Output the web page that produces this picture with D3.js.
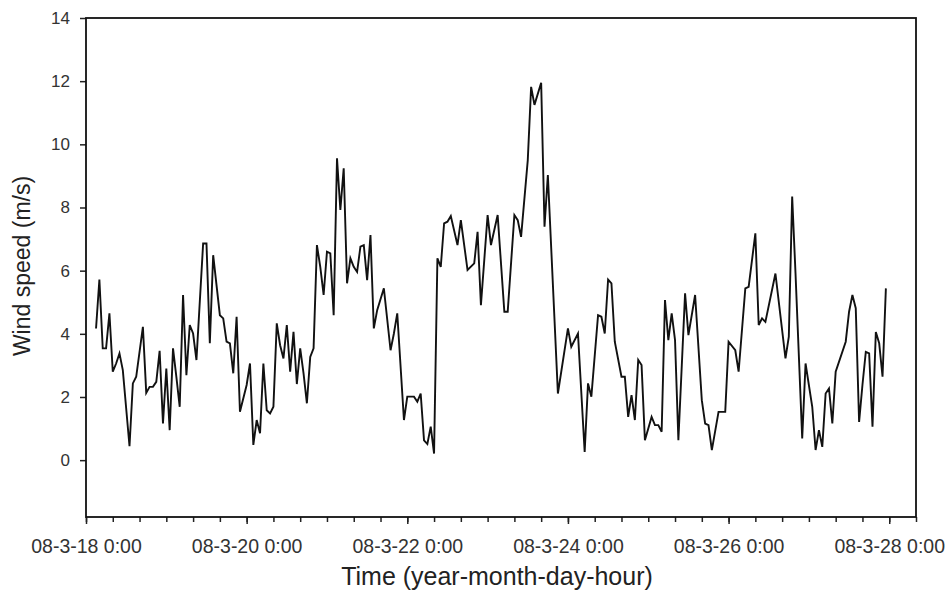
<!DOCTYPE html>
<html>
<head>
<meta charset="utf-8">
<script src="https://cdn.jsdelivr.net/npm/d3@7"></script>
<style>
  body { margin: 0; padding: 0; background: #fff; }
  svg { display: block; font-family: "Liberation Sans", Arial, sans-serif; }
</style>
</head>
<body>
<div id="chart"></div>
<script>
const width = 948;
const height = 592;

// hours after 2008-03-18 0:00
const hours = [
  3, 4, 5, 6, 7, 8, 9, 10, 11, 13, 14, 15, 17, 18, 19, 20, 21, 22, 23, 24,
  25, 26, 27, 28, 29, 30, 31, 32, 33, 35, 36, 37, 38, 40, 41, 42, 43, 44, 45, 46,
  48, 49, 50, 51, 52, 53, 54, 55, 56, 57, 58, 59, 60, 61, 62, 63, 64, 65, 66, 67,
  68, 69, 70, 71, 72, 73, 74, 75, 76, 77, 78, 79, 80, 81, 82, 83, 84, 85, 86, 87,
  89, 91, 92, 93, 95, 96, 98, 99, 100, 101, 102, 103, 104, 105, 106, 107, 108, 109, 111, 112,
  114, 116, 117, 118, 120, 121, 123, 125, 126, 128, 129, 130, 132, 133, 134, 136, 137, 138, 141, 144,
  145, 147, 149, 150, 151, 153, 154, 155, 156, 157, 158, 160, 161, 162, 163, 164, 165, 166, 167, 169,
  170, 171, 172, 173, 174, 175, 176, 177, 179, 180, 182, 184, 185, 186, 187, 189, 191, 192, 194, 195,
  197, 198, 200, 201, 202, 203, 206, 209, 210, 211, 212, 214, 215, 217, 218, 219, 220, 221, 222, 223,
  224, 227, 228, 229, 230, 231, 232, 233, 234, 235, 236, 237, 238, 239
];

// wind speed (m/s)
const speeds = [
  4.17, 5.72, 3.54, 3.54, 4.65, 2.80, 3.06, 3.38, 2.85, 0.44, 2.43, 2.64, 4.22, 2.13, 2.32, 2.32, 2.48, 3.46, 1.16, 2.90,
  0.95, 3.54, 2.64, 1.69, 5.23, 2.69, 4.28, 4.01, 3.17, 6.86, 6.86, 3.70, 6.49, 4.59, 4.49, 3.75, 3.70, 2.75, 4.54, 1.53,
  2.38, 3.06, 0.48, 1.27, 0.85, 3.06, 1.58, 1.48, 1.69, 4.33, 3.64, 3.22, 4.28, 2.80, 4.06, 2.41, 3.54, 2.75, 1.80, 3.27,
  3.54, 6.81, 6.12, 5.23, 6.60, 6.55, 4.59, 9.56, 7.92, 9.24, 5.60, 6.39, 6.12, 5.96, 6.76, 6.81, 5.70, 7.13, 4.17, 4.75,
  5.44, 3.48, 4.01, 4.65, 1.27, 2.01, 2.01, 1.85, 2.11, 0.63, 0.51, 1.06, 0.21, 6.39, 6.12, 7.50, 7.55, 7.73, 6.81, 7.60,
  6.02, 6.23, 7.23, 4.91, 7.76, 6.81, 7.76, 4.70, 4.70, 7.76, 7.60, 7.07, 9.50, 11.82, 11.25, 11.95, 7.39, 9.03, 2.11, 4.17,
  3.59, 4.01, 0.26, 2.43, 2.01, 4.59, 4.54, 4.01, 5.72, 5.60, 3.75, 2.64, 2.64, 1.37, 2.06, 1.27, 3.17, 3.01, 0.63, 1.37,
  1.11, 1.11, 0.90, 5.07, 3.80, 4.65, 3.80, 0.63, 5.28, 3.96, 5.23, 1.90, 1.16, 1.11, 0.32, 1.53, 1.53, 3.75, 3.48, 2.80,
  5.44, 5.49, 7.18, 4.28, 4.49, 4.38, 5.91, 3.22, 3.91, 8.35, 5.91, 0.69, 3.06, 1.69, 0.32, 0.95, 0.42, 2.11, 2.27, 1.16,
  2.80, 3.75, 4.70, 5.23, 4.81, 1.21, 2.38, 3.43, 3.38, 1.06, 4.06, 3.70, 2.64, 5.44
];

const yTicks = [0, 2, 4, 6, 8, 10, 12, 14];
const xMajorDays = [18, 20, 22, 24, 26, 28];

const start = Date.UTC(2008, 2, 18, 0);
const hourMs = 3600 * 1000;
const data = hours.map((h, i) => ({ t: new Date(start + h * hourMs), v: speeds[i] }));

const margin = { left: 86, right: 32, top: 18, bottom: 75 };
const plotW = width - margin.left - margin.right;
const plotH = height - margin.top - margin.bottom;

const svg = d3
  .select("#chart")
  .append("svg")
  .attr("width", width)
  .attr("height", height)
  .style("background-color", "white");

const x = d3
  .scaleUtc()
  .domain([new Date(start), new Date(start + 248 * hourMs)])
  .range([0, plotW]);

const y = d3.scaleLinear().domain([-1.8, 14]).range([plotH, 0]);

const g = svg.append("g").attr("transform", `translate(${margin.left},${margin.top})`);

// minor x ticks every 8 hours
const minorTicks = d3.range(0, 249, 8).map((h) => new Date(start + h * hourMs));
const majorTicks = xMajorDays.map((d) => new Date(Date.UTC(2008, 2, d, 0)));
const fmt = d3.utcFormat("%y-%-m-%-d %-H:%M");

g.append("g")
  .attr("transform", `translate(0,${plotH})`)
  .call(d3.axisBottom(x).tickValues(minorTicks).tickSize(5).tickSizeOuter(0).tickFormat(""))
  .call((a) => a.select(".domain").remove())
  .call((a) => a.selectAll("line").attr("stroke", "#222").attr("stroke-width", 1.5));

g.append("g")
  .attr("transform", `translate(0,${plotH})`)
  .call(d3.axisBottom(x).tickValues(majorTicks).tickSize(7).tickSizeOuter(0).tickFormat(fmt))
  .call((a) => a.select(".domain").remove())
  .call((a) => a.selectAll("line").attr("stroke", "#222").attr("stroke-width", 1.5))
  .call((a) =>
    a.selectAll("text")
      .attr("y", 22)
      .attr("fill", "#333")
      .style("font-size", "19.5px")
      .style("font-family", "Liberation Sans, Arial, sans-serif")
  );

g.append("g")
  .call(d3.axisLeft(y).tickValues(yTicks).tickSize(6).tickPadding(10))
  .call((a) => a.select(".domain").remove())
  .call((a) => a.selectAll("line").attr("stroke", "#222").attr("stroke-width", 1.5))
  .call((a) =>
    a.selectAll("text")
      .attr("fill", "#333")
      .style("font-size", "17px")
      .style("font-family", "Liberation Sans, Arial, sans-serif")
  );

// frame
g.append("rect")
  .attr("x", 0)
  .attr("y", 0)
  .attr("width", plotW)
  .attr("height", plotH)
  .attr("fill", "none")
  .attr("stroke", "#111")
  .attr("stroke-width", 1.8);

// wind speed line
const line = d3
  .line()
  .x((d) => x(d.t))
  .y((d) => y(d.v));

g.append("path")
  .datum(data)
  .attr("d", line)
  .attr("fill", "none")
  .attr("stroke", "#111")
  .attr("stroke-width", 1.9)
  .attr("stroke-linejoin", "miter");

// axis titles
svg.append("text")
  .attr("x", margin.left + plotW / 2 - 4)
  .attr("y", 585)
  .attr("text-anchor", "middle")
  .attr("fill", "#222")
  .style("font-size", "25px")
  .text("Time (year-month-day-hour)");

svg.append("text")
  .attr("transform", `translate(30,${266}) rotate(-90)`)
  .attr("text-anchor", "middle")
  .attr("fill", "#222")
  .style("font-size", "23px")
  .text("Wind speed (m/s)");
</script>
</body>
</html>
